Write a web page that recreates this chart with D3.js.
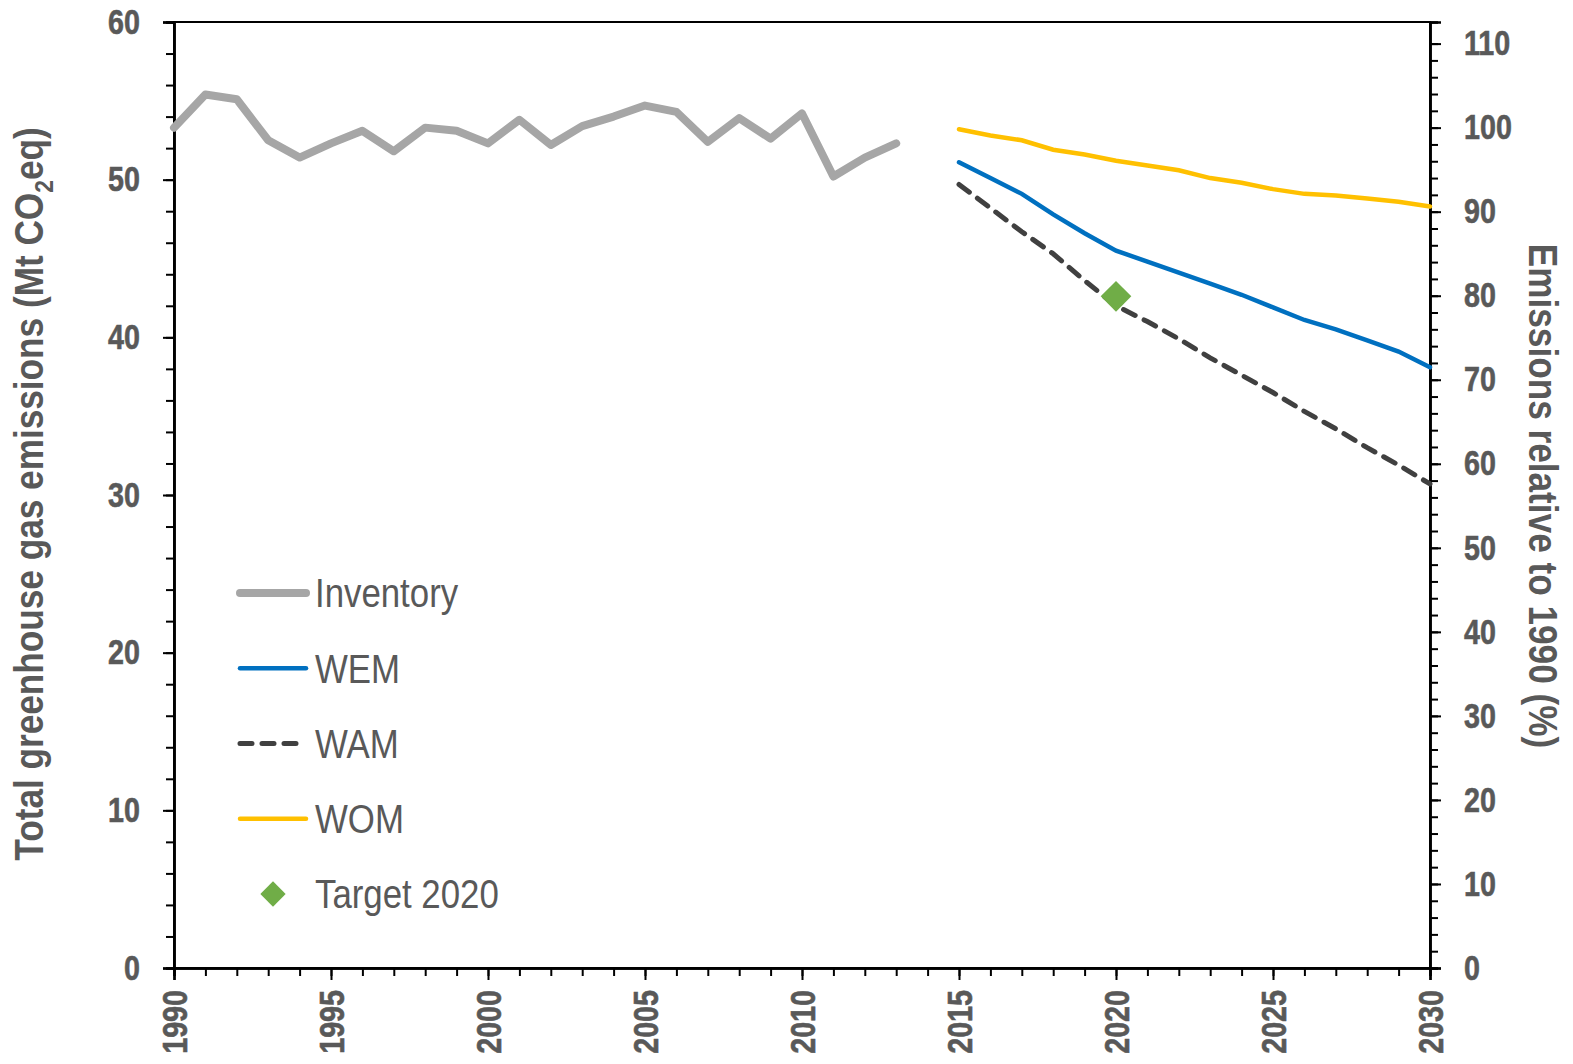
<!DOCTYPE html>
<html>
<head>
<meta charset="utf-8">
<script src="https://cdn.jsdelivr.net/npm/d3@7"></script>
<style>
  body { margin: 0; background: #fff; }
  svg { display: block; }
</style>
</head>
<body>
<div id="chart"></div>
<script>
// data (Mt CO2eq)
const invYears = [1990, 1991, 1992, 1993, 1994, 1995, 1996, 1997, 1998, 1999, 2000, 2001,
                  2002, 2003, 2004, 2005, 2006, 2007, 2008, 2009, 2010, 2011, 2012, 2013];
const inventory = [53.3, 55.4, 55.1, 52.5, 51.4, 52.3, 53.1, 51.8, 53.3, 53.1, 52.3, 53.8,
                   52.2, 53.4, 54.0, 54.7, 54.3, 52.4, 53.9, 52.6, 54.2, 50.2, 51.4, 52.3];

const projYears = [2015, 2016, 2017, 2018, 2019, 2020, 2021, 2022, 2023, 2024, 2025, 2026, 2027, 2028, 2029, 2030];
const wem = [51.1, 50.1, 49.1, 47.8, 46.6, 45.5, 44.8, 44.1, 43.4, 42.7, 41.9, 41.1, 40.5, 39.8, 39.1, 38.1];
const wam = [49.7, 48.2, 46.7, 45.3, 43.6, 42.0, 41.0, 39.9, 38.7, 37.6, 36.5, 35.3, 34.2, 33.0, 31.9, 30.7];
const wom = [53.2, 52.8, 52.5, 51.9, 51.6, 51.2, 50.9, 50.6, 50.1, 49.8, 49.4, 49.1, 49.0, 48.8, 48.6, 48.3];

const targetYears = [2020];
const target = [42.6];

const xTickLabels = [1990, 1995, 2000, 2005, 2010, 2015, 2020, 2025, 2030];
const leftTicks = [0, 10, 20, 30, 40, 50, 60];
const rightTicks = [0, 10, 20, 30, 40, 50, 60, 70, 80, 90, 100, 110];
const legendNames = ["Inventory", "WEM", "WAM", "WOM", "Target 2020"];

const width = 1573, height = 1064;
const mLeft = 174, mRight = 1430, mTop = 22, mBottom = 968;
const grey = "#595959";
const font = "'Liberation Sans', Arial, sans-serif";
const narrow = 0.82;   // fake Arial Narrow by squeezing

const svg = d3.select("#chart").append("svg")
    .attr("width", width)
    .attr("height", height);

const x = d3.scaleLinear().domain([1990, 2030]).range([mLeft, mRight]);
const y = d3.scaleLinear().domain([0, 60]).range([mBottom, mTop]);
// right axis is percent of the 1990 inventory value
const y2 = d3.scaleLinear().domain([0, 60 / inventory[0] * 100]).range([mBottom, mTop]);

// frame
svg.append("rect")
    .attr("x", mLeft).attr("y", mTop)
    .attr("width", mRight - mLeft).attr("height", mBottom - mTop)
    .attr("fill", "none").attr("stroke", "#000").attr("stroke-width", 2);

function styleAxis(g) {
  g.select(".domain").attr("stroke", "#000").attr("stroke-width", 2.5);
  g.selectAll(".tick line").attr("stroke", "#000").attr("stroke-width", 2);
  g.selectAll("text")
    .attr("fill", grey)
    .style("font-family", font)
    .style("font-weight", "bold")
    .style("font-size", "35px")
    .attr("stroke", grey).attr("stroke-width", 0.6);
}

// left axis, minor then major
svg.append("g")
    .attr("transform", `translate(${mLeft},0)`)
    .call(d3.axisLeft(y).tickValues(d3.range(0, 61, 2)).tickSize(8).tickFormat(""))
    .call(styleAxis);
svg.append("g")
    .attr("transform", `translate(${mLeft},0)`)
    .call(d3.axisLeft(y).tickValues(leftTicks).tickSize(11).tickPadding(23))
    .call(styleAxis)
    .selectAll(".tick text")
    .attr("transform", `scale(${narrow},1)`)
    .attr("x", -34 / narrow);

// right axis
svg.append("g")
    .attr("transform", `translate(${mRight},0)`)
    .call(d3.axisRight(y2).tickValues(d3.range(0, 111, 2)).tickSize(8).tickFormat(""))
    .call(styleAxis);
svg.append("g")
    .attr("transform", `translate(${mRight},0)`)
    .call(d3.axisRight(y2).tickValues(rightTicks).tickSize(11).tickPadding(24))
    .call(styleAxis)
    .selectAll(".tick text")
    .attr("transform", `scale(${narrow},1)`)
    .attr("x", 34 / narrow);

// bottom axis
svg.append("g")
    .attr("transform", `translate(0,${mBottom})`)
    .call(d3.axisBottom(x).tickValues(d3.range(1990, 2031, 1)).tickSize(8).tickFormat(""))
    .call(styleAxis);
const xAx = svg.append("g")
    .attr("transform", `translate(0,${mBottom})`)
    .call(d3.axisBottom(x).tickValues(xTickLabels).tickSize(12).tickFormat(d3.format("d")))
    .call(styleAxis);
xAx.selectAll(".tick text")
    .attr("transform", `rotate(-90) scale(${narrow},1)`)
    .attr("text-anchor", "end")
    .attr("x", -22 / narrow).attr("y", 0).attr("dy", "0.36em");

// axis titles
const leftTitle = svg.append("text")
    .attr("transform", "translate(43,494) rotate(-90) scale(0.88,1)")
    .attr("text-anchor", "middle")
    .attr("fill", grey)
    .style("font-family", font).style("font-weight", "bold").style("font-size", "40px");
leftTitle.append("tspan").text("Total greenhouse gas emissions (Mt CO");
leftTitle.append("tspan").text("2").style("font-size", "26px").attr("dy", 10);
leftTitle.append("tspan").text("eq)").attr("dy", -10);

svg.append("text")
    .attr("transform", "translate(1529,496) rotate(90) scale(0.88,1)")
    .attr("text-anchor", "middle")
    .attr("fill", grey)
    .style("font-family", font).style("font-weight", "bold").style("font-size", "40px")
    .text("Emissions relative to 1990 (%)");

// lines
const line = d3.line().x(d => x(d[0])).y(d => y(d[1]));

svg.append("path")
    .datum(d3.zip(invYears, inventory))
    .attr("d", line)
    .attr("fill", "none").attr("stroke", "#A6A6A6").attr("stroke-width", 8)
    .attr("stroke-linejoin", "round").attr("stroke-linecap", "round");

svg.append("path")
    .datum(d3.zip(projYears, wom))
    .attr("d", line)
    .attr("fill", "none").attr("stroke", "#FFC000").attr("stroke-width", 4.5)
    .attr("stroke-linecap", "round");

svg.append("path")
    .datum(d3.zip(projYears, wem))
    .attr("d", line)
    .attr("fill", "none").attr("stroke", "#0070C0").attr("stroke-width", 4.5)
    .attr("stroke-linecap", "round");

svg.append("path")
    .datum(d3.zip(projYears, wam))
    .attr("d", line)
    .attr("fill", "none").attr("stroke", "#404040").attr("stroke-width", 5)
    .attr("stroke-dasharray", "13,10").attr("stroke-linecap", "round");

// target marker
const diamond = d3.symbol().type(d3.symbolSquare).size(470);
svg.selectAll(".target")
    .data(d3.zip(targetYears, target))
    .join("path")
    .attr("class", "target")
    .attr("d", diamond)
    .attr("transform", d => `translate(${x(d[0])},${y(d[1])}) rotate(45)`)
    .attr("fill", "#70AD47");

// legend
const legY = d3.scalePoint().domain(legendNames).range([593, 894]);
const legend = svg.append("g");
const legStyles = {
  "Inventory": {stroke: "#A6A6A6", w: 8, dash: null},
  "WEM": {stroke: "#0070C0", w: 4.5, dash: null},
  "WAM": {stroke: "#404040", w: 5, dash: "12,10"},
  "WOM": {stroke: "#FFC000", w: 4.5, dash: null}
};
legendNames.forEach(name => {
  const yy = legY(name);
  const s = legStyles[name];
  if (s) {
    legend.append("line")
      .attr("x1", 240).attr("x2", 306).attr("y1", yy).attr("y2", yy)
      .attr("stroke", s.stroke).attr("stroke-width", s.w)
      .attr("stroke-linecap", "round")
      .attr("stroke-dasharray", s.dash);
  } else {
    legend.append("path")
      .attr("d", d3.symbol().type(d3.symbolSquare).size(320)())
      .attr("transform", `translate(273,${yy}) rotate(45)`)
      .attr("fill", "#70AD47");
  }
  legend.append("text")
    .attr("transform", `translate(315,${yy}) scale(0.87,1)`)
    .attr("dy", "0.36em")
    .attr("fill", grey)
    .style("font-family", font).style("font-size", "40px")
    .text(name);
});
</script>
</body>
</html>
